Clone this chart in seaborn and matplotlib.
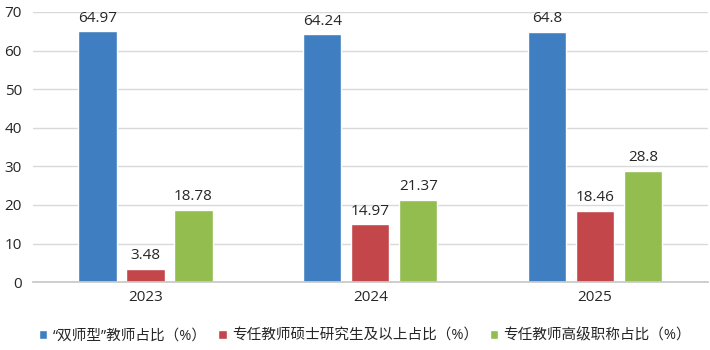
import matplotlib
matplotlib.use("Agg")
import matplotlib.pyplot as plt
import seaborn as sns
import pandas as pd

years = ["2023", "2024", "2025"]
series_names = ["“双师型”教师占比（%）", "专任教师硕士研究生及以上占比（%）", "专任教师高级职称占比（%）"]
dual_teacher = [64.97, 64.24, 64.8]
master_above = [3.48, 14.97, 18.46]
senior_title = [18.78, 21.37, 28.8]
colors = ["#3F7FC1", "#C2464A", "#93BD4F"]
y_ticks = [0, 10, 20, 30, 40, 50, 60, 70]

sns.set_theme(style="white")
plt.rcParams['font.family'] = ['Open Sans', 'Noto Sans CJK SC', 'DejaVu Sans']

rows = []
for name, vals in zip(series_names, [dual_teacher, master_above, senior_title]):
    for y, v in zip(years, vals):
        rows.append({"year": y, "series": name, "value": v})
df = pd.DataFrame(rows)

fig = plt.figure(figsize=(7.1, 3.5), dpi=100)
ax = fig.add_axes([0.0465, 0.194, 0.95, 0.772])
sns.barplot(data=df, x="year", y="value", hue="series", hue_order=series_names,
            palette=colors, width=0.64, gap=0.2, ax=ax, saturation=1, legend=True)

for cont in ax.containers:
    ax.bar_label(cont, labels=[f"{v:g}" for v in cont.datavalues], padding=4,
                 fontsize=11, color="#262626")

ax.set_ylim(0, 70)
ax.set_yticks(y_ticks)
ax.set_xlim(-0.5, 2.5)
ax.yaxis.grid(True, color="#D9D9D9", linewidth=1)
ax.set_axisbelow(True)
for s in ["top", "right", "left"]:
    ax.spines[s].set_visible(False)
ax.spines["bottom"].set_color("#C8C8C8")
ax.tick_params(axis="both", length=0, labelsize=11, colors="#262626")
ax.tick_params(axis="y", pad=8)
ax.tick_params(axis="x", pad=6)
ax.set_xlabel("")
ax.set_ylabel("")

ax.legend(loc="center", bbox_to_anchor=(0.492, -0.2), ncol=3, frameon=False,
          fontsize=10.5, handlelength=0.6, handleheight=0.6, handletextpad=0.35,
          columnspacing=0.8, labelcolor="#262626")

fig.savefig("out.png", dpi=100)
